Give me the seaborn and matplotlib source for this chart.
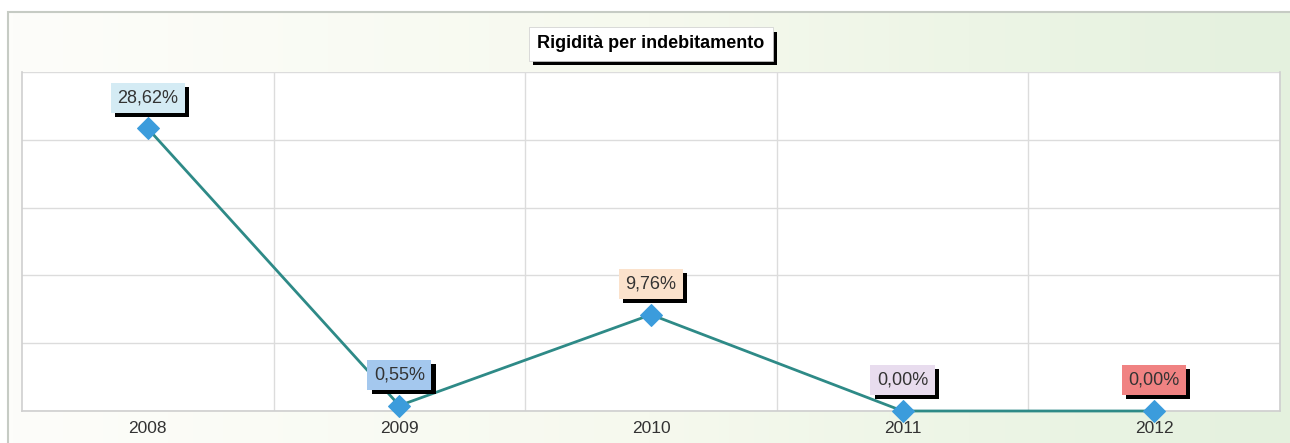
import numpy as np
import pandas as pd
import seaborn as sns
import matplotlib.pyplot as plt
import matplotlib.patheffects as pe
from matplotlib.patches import Rectangle
from matplotlib.colors import LinearSegmentedColormap

# dati
anni = ['2008', '2009', '2010', '2011', '2012']
valori = [28.62, 0.55, 9.76, 0.00, 0.00]
etichette = ['28,62%', '0,55%', '9,76%', '0,00%', '0,00%']
colori_box = ['#d4ebf4', '#a4c8ee', '#fbe2cc', '#e8dcee', '#f08282']

df = pd.DataFrame({'anno': anni, 'valore': valori})

sns.set_theme(style='white')
plt.rcParams['font.family'] = ['Liberation Sans', 'DejaVu Sans']

W, H = 1290, 443
fig = plt.figure(figsize=(W / 100, H / 100), dpi=100)
fig.patch.set_facecolor('white')

# sfondo sfumato dentro la cornice
bg = fig.add_axes([0, 0, 1, 1], zorder=-10)
grad = np.linspace(0, 1, 256).reshape(1, -1)
cmap = LinearSegmentedColormap.from_list('bg', ['#fdfdfa', '#f6f9ee', '#e4f1de'])
bx0, by1 = 8 / W, 1 - 12 / H
bg.imshow(grad, aspect='auto', cmap=cmap, extent=[bx0, 1, 0, by1])
bg.add_patch(Rectangle((bx0, -0.01), 1.0, by1 + 0.01, fill=False, ec='#c6cbc4', lw=1.5,
                       transform=bg.transAxes))
bg.set_xlim(0, 1)
bg.set_ylim(0, 1)
bg.axis('off')

# area del grafico
left, right, top, bottom = 22, 1280, 72, 411
ax = fig.add_axes([left / W, (H - bottom) / H, (right - left) / W, (bottom - top) / H])
ax.set_facecolor('white')

sns.lineplot(data=df, x='anno', y='valore', ax=ax, color='#2e8a87', lw=2,
             marker='D', markersize=11, markerfacecolor='#3b9cdc', markeredgecolor='#3b9cdc',
             zorder=3, clip_on=False)

ymax = max(valori) * 1.2
ax.set_ylim(0, ymax)
ax.set_xlim(-0.5, len(anni) - 0.5)
ax.set_yticks(np.linspace(0, ymax, 6))
ax.set_yticklabels([])
ax.set_xticks(np.arange(len(anni)) + 0.5, minor=True)
ax.grid(True, which='major', axis='y', color='#dcdcdc', lw=1)
ax.grid(True, which='minor', axis='x', color='#dcdcdc', lw=1)
ax.tick_params(axis='both', which='both', length=0)
ax.tick_params(axis='x', labelsize=12.5, labelcolor='#333333', pad=7)
ax.set_xlabel('')
ax.set_ylabel('')
ax.spines['top'].set_visible(False)
for s in ['left', 'right', 'bottom']:
    ax.spines[s].set_color('#cfcfcf')
    ax.spines[s].set_linewidth(1.2)

# ombra nera dei box
ombra = [pe.SimplePatchShadow(offset=(3, -3), shadow_rgbFace='black', alpha=1), pe.Normal()]

# etichette dei valori
for i, (v, t, c) in enumerate(zip(valori, etichette, colori_box)):
    ax.annotate(t, (i, v), xytext=(0, 16), textcoords='offset points', ha='center', va='bottom',
                fontsize=13, color='#333333', zorder=5,
                bbox=dict(boxstyle='square,pad=0.36', fc=c, ec='none', path_effects=ombra))

# titolo
fig.text(651 / W, 1 - 44 / H, 'Rigidità per indebitamento', ha='center', va='center',
         fontsize=13, fontweight='bold', color='black',
         bbox=dict(boxstyle='square,pad=0.45', fc='white', ec='#cccccc', lw=0.5,
                   path_effects=ombra))

fig.savefig('out.png', dpi=100)
